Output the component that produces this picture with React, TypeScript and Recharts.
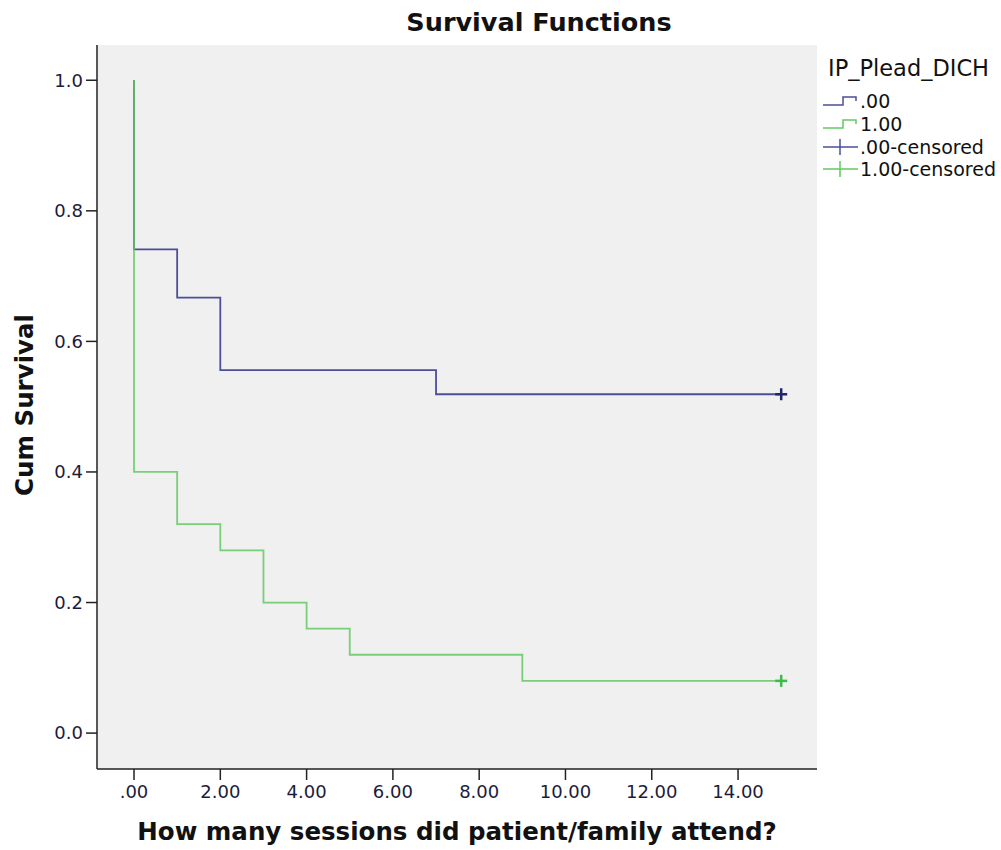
import React from "react";
import {
  ComposedChart,
  Line,
  Scatter,
  XAxis,
  YAxis,
  CartesianGrid,
  Customized,
} from "recharts";

// Kaplan-Meier survival estimates
const group0Times = [0, 0, 1, 2, 7, 15];
const group0Surv = [1.0, 0.741, 0.667, 0.556, 0.519, 0.519];
const group1Times = [0, 0, 1, 2, 3, 4, 5, 9, 15];
const group1Surv = [1.0, 0.4, 0.32, 0.28, 0.2, 0.16, 0.12, 0.08, 0.08];
const censor0 = [{ t: 15, s: 0.519 }];
const censor1 = [{ t: 15, s: 0.08 }];
const xTicks = [0, 2, 4, 6, 8, 10, 12, 14];
const yTicks = [0, 0.2, 0.4, 0.6, 0.8, 1.0];
const legendItems = [".00", "1.00", ".00-censored", "1.00-censored"];

const data0 = group0Times.map((t, i) => ({ t, s: group0Surv[i] }));
const data1 = group1Times.map((t, i) => ({ t, s: group1Surv[i] }));

const BLUE = "#4b4e98";
const GREEN = "#62c962";
const BLUE_DARK = "#20266c";
const GREEN_DARK = "#3dba4c";
const FONT = "'DejaVu Sans', 'Liberation Sans', sans-serif";

const xFmt = (v: number) => (v === 0 ? ".00" : v.toFixed(2));
const yFmt = (v: number) => v.toFixed(1);

const Plus = (color: string) => (props: any) => {
  const { cx, cy } = props;
  return (
    <g>
      <line x1={cx - 6} x2={cx + 6} y1={cy} y2={cy} stroke={color} strokeWidth={2.5} />
      <line x1={cx} x2={cx} y1={cy - 6} y2={cy + 6} stroke={color} strokeWidth={2.5} />
    </g>
  );
};

const Decor = () => {
  const lx = 823;
  const rows = [101, 124, 147, 169];
  const colors = [BLUE, GREEN, BLUE, GREEN];
  return (
    <g fontFamily={FONT}>
      <text x={539} y={31} textAnchor="middle" fontSize={25.5} fontWeight="bold" fill="#111">
        Survival Functions
      </text>
      <text x={457} y={840} textAnchor="middle" fontSize={24.5} fontWeight="bold" fill="#111">
        How many sessions did patient/family attend?
      </text>
      <text
        x={0}
        y={0}
        transform="translate(33,405) rotate(-90)"
        textAnchor="middle"
        fontSize={24.5}
        fontWeight="bold"
        fill="#111"
      >
        Cum Survival
      </text>
      <text x={lx + 5} y={76} fontSize={22.5} fill="#111">
        IP_Plead_DICH
      </text>
      {legendItems.map((label, i) => {
        const y = rows[i];
        const c = colors[i];
        return (
          <g key={label}>
            {i < 2 ? (
              <path
                d={`M${lx},${y + 4} H${lx + 20} V${y - 4} H${lx + 33} V${y}`}
                fill="none"
                stroke={c}
                strokeWidth={1.5}
              />
            ) : (
              <g>
                <line x1={lx} x2={lx + 35} y1={y} y2={y} stroke={c} strokeWidth={1.5} />
                <line x1={lx + 17} x2={lx + 17} y1={y - 8} y2={y + 8} stroke={c} strokeWidth={1.5} />
              </g>
            )}
            <text x={lx + 37} y={y + 7} fontSize={19} fill="#111">
              {label}
            </text>
          </g>
        );
      })}
    </g>
  );
};

export default function App() {
  return (
    <div style={{ position: "absolute", left: 0, top: 0, background: "#fff" }}>
      <ComposedChart
        width={1001}
        height={850}
        margin={{ top: 45, right: 184, bottom: 0, left: 0 }}
      >
        <CartesianGrid fill="#f0f0f0" horizontal={false} vertical={false} />
        <XAxis
          xAxisId="main"
          dataKey="t"
          type="number"
          domain={[-0.858, 15.83]}
          ticks={xTicks}
          tickFormatter={xFmt}
          allowDataOverflow
          height={81}
          tickSize={11}
          tickMargin={5}
          axisLine={{ stroke: "#222", strokeWidth: 1.5 }}
          tickLine={{ stroke: "#222", strokeWidth: 1.5 }}
          tick={{ fontSize: 18, fill: "#1c1c3a", fontFamily: FONT }}
        />
        <XAxis
          xAxisId="top"
          orientation="top"
          type="number"
          domain={[0, 1]}
          height={0}
          tick={false}
          tickLine={false}
          axisLine={{ stroke: "#444", strokeWidth: 1.5 }}
        />
        <YAxis
          yAxisId="main"
          type="number"
          domain={[-0.055, 1.054]}
          ticks={yTicks}
          tickFormatter={yFmt}
          allowDataOverflow
          width={97}
          tickSize={11}
          tickMargin={3}
          axisLine={{ stroke: "#222", strokeWidth: 1.5 }}
          tickLine={{ stroke: "#222", strokeWidth: 1.5 }}
          tick={{ fontSize: 18, fill: "#1c1c3a", fontFamily: FONT }}
        />
        <YAxis
          yAxisId="right"
          orientation="right"
          type="number"
          domain={[0, 1]}
          width={0}
          tick={false}
          tickLine={false}
          axisLine={{ stroke: "#444", strokeWidth: 1.5 }}
        />
        <Line
          xAxisId="main"
          yAxisId="main"
          data={data0}
          dataKey="s"
          type="stepAfter"
          stroke={BLUE}
          strokeWidth={1.8}
          dot={false}
          isAnimationActive={false}
        />
        <Line
          xAxisId="main"
          yAxisId="main"
          data={data1}
          dataKey="s"
          type="stepAfter"
          stroke={GREEN}
          strokeOpacity={0.85}
          strokeWidth={1.8}
          dot={false}
          isAnimationActive={false}
        />
        <Scatter
          xAxisId="main"
          yAxisId="main"
          data={censor0}
          dataKey="s"
          shape={Plus(BLUE_DARK)}
          isAnimationActive={false}
        />
        <Scatter
          xAxisId="main"
          yAxisId="main"
          data={censor1}
          dataKey="s"
          shape={Plus(GREEN_DARK)}
          isAnimationActive={false}
        />
        <Customized component={Decor} />
      </ComposedChart>
    </div>
  );
}
